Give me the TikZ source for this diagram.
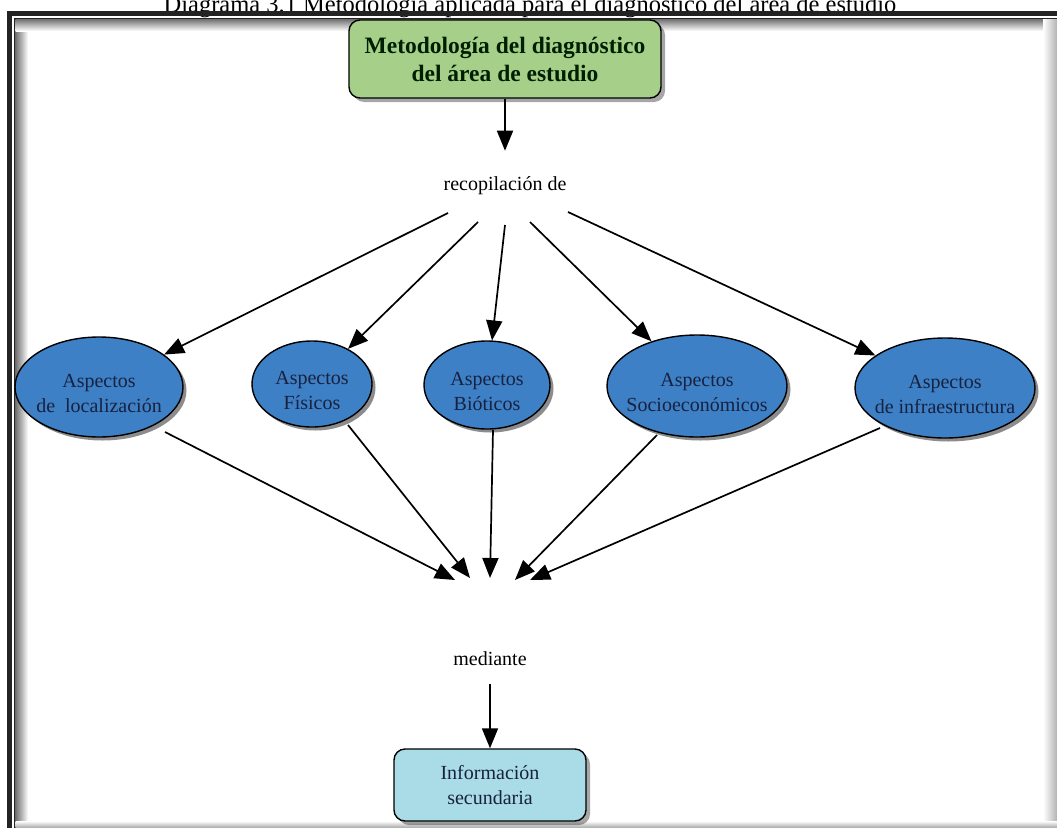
\documentclass[tikz,border=0pt]{standalone}
\usepackage{fontspec}
\setmainfont{Liberation Serif}
\usetikzlibrary{arrows.meta,shapes.geometric,shadows,calc}
\definecolor{framedark}{HTML}{232323}
\definecolor{boxgreen}{HTML}{A6D08A}
\definecolor{aspblue}{HTML}{3D80C6}
\definecolor{asptext}{HTML}{18213F}
\definecolor{boxcyan}{HTML}{A9DCE7}
\tikzset{
  arr/.style={-{Triangle[length=20pt,width=16pt]}, line width=1.7pt, black},
  plain/.style={font=\fontsize{20}{24}\selectfont, inner sep=0pt},
  topbox/.style={draw=black, line width=1.4pt, fill=boxgreen, rounded corners=11pt,
    minimum width=312pt, minimum height=78pt, align=center, inner sep=0pt,
    font=\bfseries\fontsize{23.5}{28}\selectfont, text=black!88!green,
    drop shadow={shadow xshift=4pt, shadow yshift=-4pt, fill=black, opacity=0.35}},
  endbox/.style={draw=black, line width=1.4pt, fill=boxcyan, rounded corners=11pt,
    minimum width=192pt, minimum height=72pt, align=center, inner sep=0pt,
    font=\fontsize{20}{25}\selectfont, text=asptext,
    drop shadow={shadow xshift=4pt, shadow yshift=-4pt, fill=black, opacity=0.35}},
  aspect/.style={ellipse, draw=black, line width=1.4pt, fill=aspblue, inner sep=0pt,
    drop shadow={shadow xshift=3.5pt, shadow yshift=-3.5pt, fill=black, opacity=0.45}},
  asptxt/.style={align=center, inner sep=0pt, font=\fontsize{20}{25}\selectfont, text=asptext}
}
\begin{document}
\begin{tikzpicture}[x=1pt,y=-1pt]
\useasboundingbox (0,0) rectangle (1057,827);
\clip (0,0) rectangle (1057,827);
\fill[white] (0,0) rectangle (1057,827);

% caption above the frame
\node[anchor=base, inner sep=0pt, font=\fontsize{24.5}{28}\selectfont] (title) at (530,12.5)
  {Diagrama 3.1 Metodología aplicada para el diagnóstico del área de estudio};

% double frame with soft inner shadow
\draw[line width=5pt, framedark] (9.5,13.5) rectangle (1090,860);
\draw[line width=1.3pt, framedark] (15,18.5) rectangle (1085,855);
\shade[left color=black!55, right color=white] (15.7,19.2) rectangle (28,827);
\shade[top color=black!55, bottom color=white] (15.7,19.2) rectangle (1057,31);
\shade[left color=white, right color=black!30] (1043,19.2) rectangle (1057,827);
\shade[top color=white, bottom color=black!30] (15.7,821) rectangle (1057,827);

% nodes
\node[topbox] (metodo) at (505,59) {Metodología del diagnóstico\\del área de estudio};
\node[plain] (recop) at (505,186) {recopilación de};

\node[aspect, minimum width=168pt, minimum height=100pt] (e1) at (99,387) {};
\node[aspect, minimum width=120pt, minimum height=86pt] (e2) at (312,384) {};
\node[aspect, minimum width=126pt, minimum height=88pt] (e3) at (487,385) {};
\node[aspect, minimum width=180pt, minimum height=102pt] (e4) at (697,386) {};
\node[aspect, minimum width=180pt, minimum height=100pt] (e5) at (945,388) {};

\node[asptxt] (t1) at ($(e1)+(0,6)$) {Aspectos\\de\ \ localización};
\node[asptxt] (t2) at ($(e2)+(0,6)$) {Aspectos\\Físicos};
\node[asptxt] (t3) at ($(e3)+(0,6)$) {Aspectos\\Bióticos};
\node[asptxt] (t4) at ($(e4)+(0,6)$) {Aspectos\\Socioeconómicos};
\node[asptxt] (t5) at ($(e5)+(0,6)$) {Aspectos\\de infraestructura};

\node[plain] (mediante) at (490,659) {mediante};
\node[endbox] (info) at (490,785) {Información\\secundaria};

% connectors
\draw[arr] (metodo.south) -- ($(recop.north)+(0,-26)$);

\draw[arr] ($(recop)+(-57,27)$) -- (e1);
\draw[arr] ($(recop)+(-27,36)$) -- (e2);
\draw[arr] ($(recop)+(0,39)$) -- (e3);
\draw[arr] ($(recop)+(25,36)$) -- (e4);
\draw[arr] ($(recop)+(63,26)$) -- (e5);

\draw[arr] ($(e1)+(66,45)$) -- ($(mediante)+(-35,-79)$);
\draw[arr] ($(e2)+(36,41)$) -- ($(mediante)+(-20,-81)$);
\draw[arr] ($(e3)+(6,45)$) -- ($(mediante)+(0,-81)$);
\draw[arr] ($(e4)+(-40,49)$) -- ($(mediante)+(25,-79)$);
\draw[arr] ($(e5)+(-65,40)$) -- ($(mediante)+(40,-79)$);

\draw[arr] ($(mediante)+(0,25)$) -- (info.north);
\end{tikzpicture}
\end{document}
